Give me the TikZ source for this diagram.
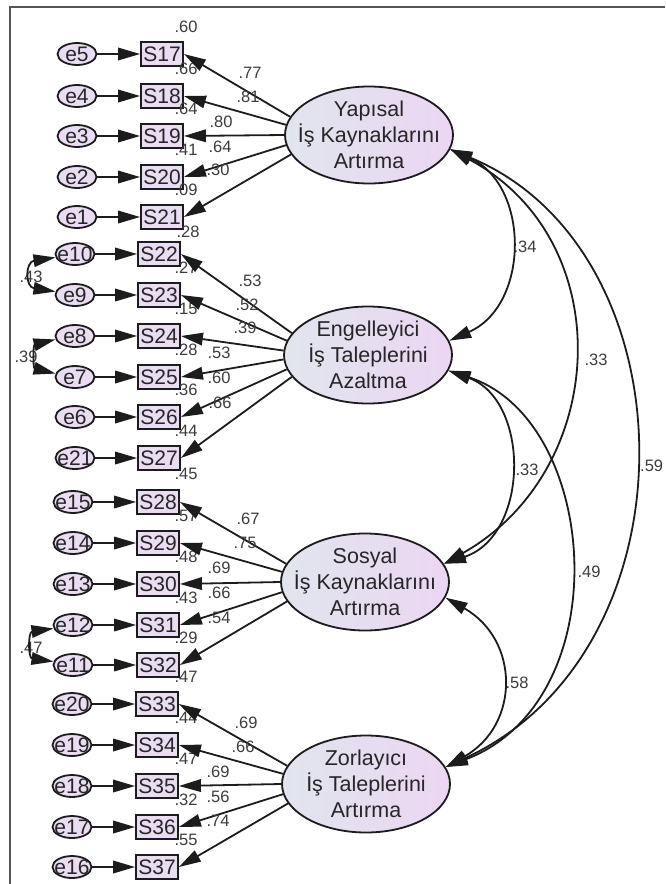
\documentclass[tikz,border=0pt]{standalone}
\usepackage{fontspec}
\setmainfont{Liberation Sans}
\usetikzlibrary{arrows.meta,shapes.geometric}

\definecolor{obsfill}{HTML}{EADCF2}
\definecolor{latleft}{HTML}{E1E5EE}
\definecolor{latright}{HTML}{ECD6F3}
\definecolor{inkc}{HTML}{1C1C1C}
\definecolor{txtc}{HTML}{262626}
\definecolor{numc}{HTML}{3C3C3C}
\definecolor{framec}{HTML}{555555}

\begin{document}
\begin{tikzpicture}[x=1pt, y=-1pt, line width=1.8pt, draw=inkc,
  every node/.style={text=txtc},
  obs/.style={draw=inkc, fill=obsfill, minimum width=42pt, minimum height=24pt, inner sep=0pt, font=\fontsize{21}{24}\selectfont},
  err/.style={draw=inkc, ellipse, fill=obsfill, minimum width=39pt, minimum height=22pt, inner sep=-12pt, font=\fontsize{21}{24}\selectfont},
  lat/.style={draw=inkc, ellipse, left color=latleft, right color=latright, minimum width=168pt, minimum height=97pt, inner sep=-20pt, align=center, font=\fontsize{21.5}{26}\selectfont},
  num/.style={text=numc, inner sep=0pt, font=\fontsize{16.5}{18}\selectfont},
  arr/.style={-{Triangle[length=22pt,width=12.5pt]}},
  cov/.style={{Triangle[length=22pt,width=12.5pt]}-{Triangle[length=22pt,width=12.5pt]}}]
\useasboundingbox (0,0) rectangle (665,884);
\draw[framec] (10,884) -- (10,7) -- (665,7);

% factors
\node[lat] (YIK) at (369,135) {Yapısal\\İş Kaynaklarını\\Artırma};
\node[lat] (EIT) at (368,355) {Engelleyici\\İş Taleplerini\\Azaltma};
\node[lat] (SIK) at (365,582) {Sosyal\\İş Kaynaklarını\\Artırma};
\node[lat] (ZIT) at (366,784) {Zorlayıcı\\İş Taleplerini\\Artırma};

% items, errors and R^2
\node[err] (e5) at (77,54) {e5};   \node[obs] (S17) at (162,54) {S17};  \node[num] (r17) at (186,27) {.60};
\node[err] (e4) at (77,96) {e4};   \node[obs] (S18) at (162,96) {S18};  \node[num] (r18) at (186,69) {.66};
\node[err] (e3) at (77,136) {e3};  \node[obs] (S19) at (162,136) {S19}; \node[num] (r19) at (186,109) {.64};
\node[err] (e2) at (77,177) {e2};  \node[obs] (S20) at (162,177) {S20}; \node[num] (r20) at (186,150) {.41};
\node[err] (e1) at (77,217) {e1};  \node[obs] (S21) at (162,217) {S21}; \node[num] (r21) at (186,190) {.09};
\node[err] (e10) at (75,254) {e10}; \node[obs] (S22) at (159,254) {S22}; \node[num] (r22) at (188,232) {.28};
\node[err] (e9) at (75,295) {e9};  \node[obs] (S23) at (159,295) {S23}; \node[num] (r23) at (186,268) {.27};
\node[err] (e8) at (75,336) {e8};  \node[obs] (S24) at (159,336) {S24}; \node[num] (r24) at (186,309) {.15};
\node[err] (e7) at (75,377) {e7};  \node[obs] (S25) at (159,377) {S25}; \node[num] (r25) at (186,350) {.28};
\node[err] (e6) at (75,417) {e6};  \node[obs] (S26) at (159,417) {S26}; \node[num] (r26) at (186,390) {.36};
\node[err] (e21) at (75,458) {e21}; \node[obs] (S27) at (159,458) {S27}; \node[num] (r27) at (186,431) {.44};
\node[err] (e15) at (73,502) {e15}; \node[obs] (S28) at (158,502) {S28}; \node[num] (r28) at (186,474) {.45};
\node[err] (e14) at (73,543) {e14}; \node[obs] (S29) at (158,543) {S29}; \node[num] (r29) at (186,516) {.57};
\node[err] (e13) at (73,584) {e13}; \node[obs] (S30) at (158,584) {S30}; \node[num] (r30) at (186,557) {.48};
\node[err] (e12) at (73,625) {e12}; \node[obs] (S31) at (158,625) {S31}; \node[num] (r31) at (186,598) {.43};
\node[err] (e11) at (73,665) {e11}; \node[obs] (S32) at (158,665) {S32}; \node[num] (r32) at (186,638) {.29};
\node[err] (e20) at (72,704) {e20}; \node[obs] (S33) at (157,704) {S33}; \node[num] (r33) at (186,677) {.47};
\node[err] (e19) at (72,745) {e19}; \node[obs] (S34) at (157,745) {S34}; \node[num] (r34) at (186,718) {.44};
\node[err] (e18) at (72,786) {e18}; \node[obs] (S35) at (157,786) {S35}; \node[num] (r35) at (186,759) {.47};
\node[err] (e17) at (72,827) {e17}; \node[obs] (S36) at (157,827) {S36}; \node[num] (r36) at (186,800) {.32};
\node[err] (e16) at (72,867) {e16}; \node[obs] (S37) at (157,867) {S37}; \node[num] (r37) at (186,840) {.55};

% error paths
\draw[arr] (e5) -- (S17);  \draw[arr] (e4) -- (S18);  \draw[arr] (e3) -- (S19);
\draw[arr] (e2) -- (S20);  \draw[arr] (e1) -- (S21);  \draw[arr] (e10) -- (S22);
\draw[arr] (e9) -- (S23);  \draw[arr] (e8) -- (S24);  \draw[arr] (e7) -- (S25);
\draw[arr] (e6) -- (S26);  \draw[arr] (e21) -- (S27); \draw[arr] (e15) -- (S28);
\draw[arr] (e14) -- (S29); \draw[arr] (e13) -- (S30); \draw[arr] (e12) -- (S31);
\draw[arr] (e11) -- (S32); \draw[arr] (e20) -- (S33); \draw[arr] (e19) -- (S34);
\draw[arr] (e18) -- (S35); \draw[arr] (e17) -- (S36); \draw[arr] (e16) -- (S37);

% loadings
\node[num] (l17) at (250,73) {.77};  \draw[arr] (YIK.167) -- (S17.east);
\node[num] (l18) at (248,97) {.81};  \draw[arr] (YIK.173) -- (S18.east);
\node[num] (l19) at (221,122) {.80}; \draw[arr] (YIK.180) -- (S19.east);
\node[num] (l20) at (220,147) {.64}; \draw[arr] (YIK.187) -- (S20.east);
\node[num] (l21) at (218,170) {.30}; \draw[arr] (YIK.194) -- (S21.east);

\node[num] (l22) at (250,281) {.53}; \draw[arr] (EIT.164) -- (S22.east);
\node[num] (l23) at (247,305) {.52}; \draw[arr] (EIT.170) -- (S23.east);
\node[num] (l24) at (245,328) {.39}; \draw[arr] (EIT.177) -- (S24.east);
\node[num] (l25) at (219,353) {.53}; \draw[arr] (EIT.183) -- (S25.east);
\node[num] (l26) at (219,378) {.60}; \draw[arr] (EIT.190) -- (S26.east);
\node[num] (l27) at (220,403) {.66}; \draw[arr] (EIT.196) -- (S27.east);

\node[num] (l28) at (248,519) {.67}; \draw[arr] (SIK.167) -- (S28.east);
\node[num] (l29) at (245,543) {.75}; \draw[arr] (SIK.173) -- (S29.east);
\node[num] (l30) at (219,568) {.69}; \draw[arr] (SIK.180) -- (S30.east);
\node[num] (l31) at (219,593) {.66}; \draw[arr] (SIK.187) -- (S31.east);
\node[num] (l32) at (219,618) {.54}; \draw[arr] (SIK.194) -- (S32.east);

\node[num] (l33) at (246,723) {.69}; \draw[arr] (ZIT.167) -- (S33.east);
\node[num] (l34) at (243,747) {.66}; \draw[arr] (ZIT.173) -- (S34.east);
\node[num] (l35) at (218,772) {.69}; \draw[arr] (ZIT.180) -- (S35.east);
\node[num] (l36) at (218,797) {.56}; \draw[arr] (ZIT.187) -- (S36.east);
\node[num] (l37) at (218,821) {.74}; \draw[arr] (ZIT.194) -- (S37.east);

% error covariances
\node[num] (c109) at (31,277) {.43};
\draw[cov] (e10.190) .. controls (25,262) and (25,287) .. (e9.170);
\node[num] (c87) at (26,357) {.39};
\draw[cov] (e8.190) .. controls (33,345) and (33,368) .. (e7.170);
\node[num] (c1211) at (31,648) {.47};
\draw[cov] (e12.190) .. controls (28,632) and (28,658) .. (e11.170);

% factor covariances
\node[num] (cYE) at (525,247) {.34};
\draw[cov] (YIK.-10) .. controls (530,185) and (530,305) .. (EIT.10);
\node[num] (cYS) at (596,360) {.33};
\draw[cov] (YIK.-10) .. controls (620,240) and (610,470) .. (SIK.13);
\node[num, anchor=east] (cYZ) at (664,466) {.59};
\draw[cov] (YIK.-10) .. controls (693,250) and (700,650) .. (ZIT.12);
\node[num] (cES) at (527,470) {.33};
\draw[cov] (EIT.-11) .. controls (530,400) and (530,535) .. (SIK.13);
\node[num] (cEZ) at (589,572) {.49};
\draw[cov] (EIT.-11) .. controls (600,420) and (620,700) .. (ZIT.12);
\node[num] (cSZ) at (517,683) {.58};
\draw[cov] (SIK.-11) .. controls (520,640) and (520,725) .. (ZIT.12);

\end{tikzpicture}
\end{document}
